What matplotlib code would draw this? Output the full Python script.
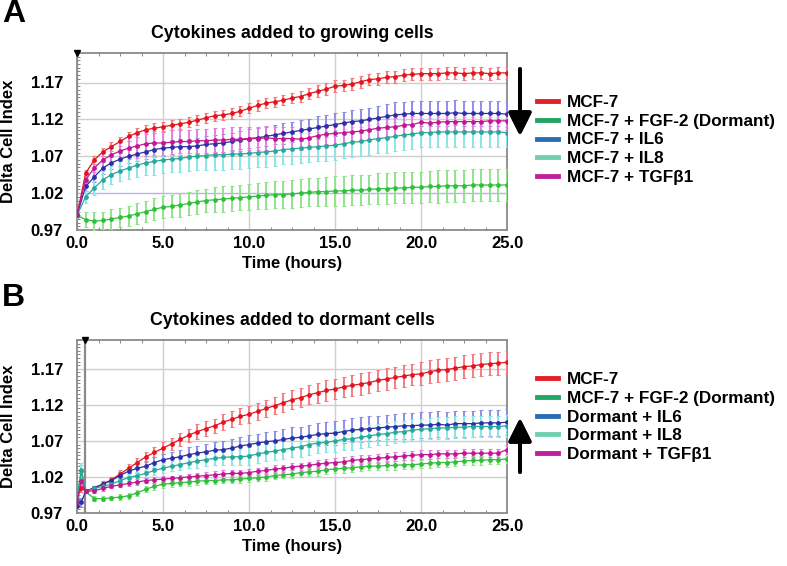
import matplotlib
matplotlib.use("Agg")
import matplotlib.pyplot as plt
from matplotlib.lines import Line2D
from matplotlib.ticker import MultipleLocator
import numpy as np

plt.rcParams['font.family'] = ['Liberation Sans', 'DejaVu Sans']
plt.rcParams['font.weight'] = 'bold'

# ---------------- Panel A data (cytokines added to growing cells) ----------------
time_a = [0, 0.5, 1, 1.5, 2, 2.5, 3, 3.5, 4, 4.5, 5, 5.5, 6, 6.5, 7, 7.5, 8, 8.5, 9, 9.5,
          10, 10.5, 11, 11.5, 12, 12.5, 13, 13.5, 14, 14.5, 15, 15.5, 16, 16.5, 17, 17.5,
          18, 18.5, 19, 19.5, 20, 20.5, 21, 21.5, 22, 22.5, 23, 23.5, 24, 24.5, 25]

a_mcf7 = [0.990, 1.047, 1.065, 1.076, 1.083, 1.090, 1.097, 1.102, 1.106, 1.108, 1.110, 1.112,
          1.114, 1.116, 1.119, 1.122, 1.125, 1.126, 1.128, 1.131, 1.135, 1.139, 1.142, 1.144,
          1.146, 1.149, 1.151, 1.155, 1.158, 1.161, 1.165, 1.166, 1.168, 1.171, 1.174, 1.175,
          1.177, 1.178, 1.180, 1.181, 1.182, 1.182, 1.182, 1.183, 1.183, 1.182, 1.183, 1.183,
          1.182, 1.183, 1.183]
a_fgf2 = [0.990, 0.984, 0.982, 0.983, 0.985, 0.987, 0.989, 0.992, 0.995, 0.998, 1.001, 1.002,
          1.004, 1.006, 1.008, 1.010, 1.011, 1.012, 1.013, 1.014, 1.015, 1.016, 1.017, 1.018,
          1.018, 1.019, 1.020, 1.021, 1.022, 1.022, 1.023, 1.023, 1.024, 1.024, 1.025, 1.026,
          1.026, 1.027, 1.027, 1.028, 1.028, 1.029, 1.029, 1.030, 1.030, 1.030, 1.031, 1.031,
          1.031, 1.031, 1.031]
a_il6 = [0.990, 1.029, 1.042, 1.054, 1.061, 1.066, 1.070, 1.073, 1.076, 1.079, 1.081, 1.082,
         1.083, 1.083, 1.084, 1.086, 1.087, 1.088, 1.090, 1.092, 1.094, 1.095, 1.097, 1.099,
         1.101, 1.103, 1.105, 1.107, 1.109, 1.111, 1.113, 1.115, 1.117, 1.118, 1.120, 1.122,
         1.124, 1.126, 1.127, 1.128, 1.128, 1.128, 1.128, 1.128, 1.129, 1.128, 1.128, 1.128,
         1.128, 1.128, 1.127]
a_il8 = [0.990, 1.015, 1.027, 1.038, 1.045, 1.050, 1.054, 1.058, 1.061, 1.063, 1.065, 1.066,
         1.067, 1.069, 1.070, 1.071, 1.072, 1.072, 1.073, 1.073, 1.074, 1.075, 1.076, 1.077,
         1.079, 1.080, 1.081, 1.082, 1.083, 1.084, 1.085, 1.087, 1.089, 1.090, 1.092, 1.094,
         1.095, 1.097, 1.099, 1.100, 1.102, 1.102, 1.103, 1.103, 1.103, 1.103, 1.103, 1.103,
         1.103, 1.103, 1.102]
a_tgfb1 = [0.990, 1.038, 1.054, 1.065, 1.072, 1.077, 1.081, 1.084, 1.087, 1.088, 1.088, 1.089,
           1.090, 1.090, 1.091, 1.091, 1.092, 1.092, 1.093, 1.093, 1.094, 1.094, 1.095, 1.094,
           1.094, 1.094, 1.093, 1.095, 1.098, 1.100, 1.101, 1.102, 1.103, 1.104, 1.106, 1.108,
           1.109, 1.110, 1.112, 1.113, 1.116, 1.115, 1.116, 1.117, 1.117, 1.117, 1.117, 1.117,
           1.118, 1.118, 1.118]

a_mcf7_err = [0.003, 0.005, 0.005, 0.005, 0.006, 0.006, 0.006, 0.006, 0.006, 0.007, 0.007, 0.007,
              0.007, 0.007, 0.007, 0.007, 0.007, 0.007, 0.007, 0.007, 0.007, 0.007, 0.007, 0.007,
              0.007, 0.007, 0.007, 0.007, 0.008, 0.008, 0.008, 0.008, 0.008, 0.008, 0.008, 0.008,
              0.008, 0.008, 0.008, 0.008, 0.008, 0.008, 0.008, 0.008, 0.008, 0.008, 0.008, 0.008,
              0.008, 0.008, 0.008]
a_fgf2_err = [0.004, 0.010, 0.012, 0.012, 0.013, 0.013, 0.014, 0.014, 0.014, 0.015, 0.015, 0.015,
              0.016, 0.016, 0.016, 0.016, 0.017, 0.017, 0.017, 0.017, 0.018, 0.018, 0.018, 0.018,
              0.018, 0.019, 0.019, 0.019, 0.019, 0.020, 0.020, 0.020, 0.020, 0.020, 0.020, 0.021,
              0.021, 0.021, 0.021, 0.021, 0.021, 0.021, 0.022, 0.022, 0.022, 0.022, 0.022, 0.022,
              0.022, 0.022, 0.022]
a_il6_err = [0.003, 0.006, 0.007, 0.008, 0.008, 0.009, 0.009, 0.009, 0.010, 0.010, 0.010, 0.010,
             0.011, 0.011, 0.011, 0.011, 0.012, 0.012, 0.012, 0.012, 0.013, 0.013, 0.013, 0.013,
             0.014, 0.014, 0.014, 0.014, 0.015, 0.015, 0.015, 0.015, 0.016, 0.016, 0.016, 0.016,
             0.017, 0.017, 0.017, 0.017, 0.017, 0.017, 0.017, 0.017, 0.017, 0.017, 0.017, 0.017,
             0.017, 0.017, 0.017]
a_il8_err = [0.003, 0.008, 0.010, 0.012, 0.012, 0.014, 0.015, 0.016, 0.017, 0.018, 0.018, 0.018,
             0.019, 0.019, 0.019, 0.019, 0.020, 0.020, 0.020, 0.020, 0.020, 0.020, 0.020, 0.020,
             0.020, 0.020, 0.020, 0.020, 0.020, 0.020, 0.020, 0.020, 0.020, 0.020, 0.020, 0.020,
             0.020, 0.020, 0.020, 0.020, 0.020, 0.020, 0.020, 0.020, 0.020, 0.020, 0.020, 0.020,
             0.020, 0.020, 0.020]
a_tgfb1_err = [0.003, 0.008, 0.010, 0.012, 0.013, 0.014, 0.015, 0.016, 0.016, 0.016, 0.016, 0.016,
               0.016, 0.016, 0.016, 0.016, 0.016, 0.016, 0.016, 0.016, 0.016, 0.016, 0.016, 0.016,
               0.015, 0.015, 0.015, 0.015, 0.014, 0.014, 0.014, 0.014, 0.013, 0.013, 0.013, 0.013,
               0.012, 0.012, 0.012, 0.012, 0.012, 0.012, 0.012, 0.012, 0.012, 0.012, 0.012, 0.012,
               0.012, 0.012, 0.012]

# ---------------- Panel B data (cytokines added to dormant cells) ----------------
time_b = [0, 0.25, 0.5, 1, 1.5, 2, 2.5, 3, 3.5, 4, 4.5, 5, 5.5, 6, 6.5, 7, 7.5, 8, 8.5, 9, 9.5,
          10, 10.5, 11, 11.5, 12, 12.5, 13, 13.5, 14, 14.5, 15, 15.5, 16, 16.5, 17, 17.5,
          18, 18.5, 19, 19.5, 20, 20.5, 21, 21.5, 22, 22.5, 23, 23.5, 24, 24.5, 25]

b_mcf7 = [0.990, 1.005, 1.000, 1.005, 1.010, 1.016, 1.024, 1.032, 1.040, 1.048, 1.054, 1.060,
          1.066, 1.072, 1.078, 1.083, 1.087, 1.091, 1.096, 1.100, 1.104, 1.107, 1.111, 1.115,
          1.119, 1.123, 1.127, 1.130, 1.134, 1.137, 1.140, 1.142, 1.145, 1.147, 1.149, 1.151,
          1.154, 1.156, 1.158, 1.160, 1.162, 1.163, 1.166, 1.168, 1.169, 1.171, 1.173, 1.174,
          1.176, 1.177, 1.178, 1.179]
b_fgf2 = [0.990, 1.028, 1.000, 0.990, 0.990, 0.991, 0.992, 0.994, 0.998, 1.003, 1.007, 1.010,
          1.011, 1.012, 1.013, 1.014, 1.015, 1.015, 1.016, 1.016, 1.017, 1.018, 1.019, 1.020,
          1.022, 1.023, 1.024, 1.026, 1.027, 1.028, 1.030, 1.031, 1.032, 1.033, 1.034, 1.035,
          1.035, 1.036, 1.036, 1.037, 1.037, 1.038, 1.039, 1.040, 1.040, 1.041, 1.042, 1.043,
          1.043, 1.044, 1.044, 1.045]
b_il6 = [0.980, 0.985, 1.000, 1.005, 1.010, 1.015, 1.022, 1.028, 1.032, 1.035, 1.040, 1.044,
         1.046, 1.048, 1.051, 1.053, 1.055, 1.057, 1.058, 1.060, 1.063, 1.065, 1.067, 1.069,
         1.070, 1.072, 1.074, 1.075, 1.077, 1.079, 1.080, 1.081, 1.083, 1.085, 1.086, 1.087,
         1.088, 1.089, 1.090, 1.091, 1.091, 1.092, 1.092, 1.093, 1.092, 1.094, 1.094, 1.094,
         1.095, 1.095, 1.095, 1.096]
b_il8 = [0.990, 1.030, 1.000, 1.004, 1.007, 1.010, 1.015, 1.019, 1.022, 1.025, 1.029, 1.032,
         1.035, 1.037, 1.040, 1.042, 1.044, 1.046, 1.047, 1.048, 1.048, 1.049, 1.052, 1.054,
         1.056, 1.058, 1.060, 1.062, 1.065, 1.067, 1.068, 1.070, 1.072, 1.073, 1.075, 1.077,
         1.079, 1.080, 1.082, 1.083, 1.085, 1.086, 1.087, 1.088, 1.088, 1.089, 1.089, 1.090,
         1.090, 1.090, 1.090, 1.091]
b_tgfb1 = [0.985, 1.015, 1.000, 1.001, 1.004, 1.007, 1.009, 1.011, 1.013, 1.015, 1.016, 1.017,
           1.018, 1.019, 1.020, 1.021, 1.022, 1.023, 1.024, 1.025, 1.025, 1.026, 1.028, 1.029,
           1.031, 1.032, 1.034, 1.035, 1.036, 1.038, 1.039, 1.040, 1.041, 1.043, 1.044, 1.045,
           1.046, 1.047, 1.048, 1.049, 1.050, 1.051, 1.051, 1.052, 1.052, 1.052, 1.053, 1.053,
           1.053, 1.053, 1.053, 1.058]

b_mcf7_err = [0.004, 0.006, 0.002, 0.003, 0.004, 0.004, 0.005, 0.006, 0.006, 0.007, 0.007, 0.008,
              0.008, 0.009, 0.009, 0.010, 0.010, 0.010, 0.011, 0.011, 0.011, 0.012, 0.012, 0.012,
              0.012, 0.013, 0.013, 0.013, 0.013, 0.014, 0.014, 0.014, 0.014, 0.014, 0.015, 0.015,
              0.015, 0.015, 0.015, 0.015, 0.015, 0.016, 0.016, 0.016, 0.016, 0.016, 0.016, 0.016,
              0.016, 0.016, 0.016, 0.016]
b_fgf2_err = [0.004, 0.008, 0.002, 0.003, 0.003, 0.003, 0.004, 0.004, 0.004, 0.004, 0.005, 0.005,
              0.005, 0.005, 0.005, 0.005, 0.005, 0.005, 0.005, 0.005, 0.005, 0.005, 0.005, 0.005,
              0.005, 0.005, 0.005, 0.006, 0.006, 0.006, 0.006, 0.006, 0.006, 0.006, 0.006, 0.006,
              0.006, 0.006, 0.006, 0.006, 0.006, 0.006, 0.006, 0.006, 0.006, 0.006, 0.006, 0.006,
              0.006, 0.006, 0.006, 0.006]
b_il6_err = [0.004, 0.006, 0.002, 0.003, 0.004, 0.004, 0.005, 0.006, 0.007, 0.007, 0.008, 0.008,
             0.009, 0.009, 0.010, 0.010, 0.011, 0.011, 0.012, 0.012, 0.012, 0.013, 0.013, 0.014,
             0.014, 0.014, 0.015, 0.015, 0.015, 0.016, 0.016, 0.016, 0.016, 0.017, 0.017, 0.017,
             0.017, 0.017, 0.018, 0.018, 0.018, 0.018, 0.018, 0.018, 0.018, 0.018, 0.018, 0.018,
             0.018, 0.018, 0.018, 0.018]
b_il8_err = [0.004, 0.010, 0.002, 0.003, 0.003, 0.004, 0.004, 0.005, 0.005, 0.006, 0.006, 0.007,
             0.007, 0.008, 0.008, 0.009, 0.009, 0.010, 0.010, 0.011, 0.011, 0.012, 0.012, 0.012,
             0.013, 0.013, 0.013, 0.014, 0.014, 0.014, 0.014, 0.015, 0.015, 0.015, 0.015, 0.015,
             0.015, 0.015, 0.015, 0.015, 0.015, 0.015, 0.015, 0.015, 0.015, 0.015, 0.015, 0.015,
             0.015, 0.015, 0.015, 0.015]
b_tgfb1_err = [0.004, 0.008, 0.002, 0.003, 0.003, 0.003, 0.003, 0.004, 0.004, 0.004, 0.004, 0.004,
               0.004, 0.004, 0.004, 0.004, 0.005, 0.005, 0.005, 0.005, 0.005, 0.005, 0.005, 0.005,
               0.005, 0.005, 0.005, 0.005, 0.005, 0.006, 0.006, 0.006, 0.006, 0.006, 0.006, 0.006,
               0.006, 0.006, 0.006, 0.006, 0.006, 0.006, 0.006, 0.006, 0.006, 0.006, 0.006, 0.006,
               0.006, 0.006, 0.006, 0.006]

labels_a = ['MCF-7', 'MCF-7 + FGF-2 (Dormant)', 'MCF-7 + IL6', 'MCF-7 + IL8', 'MCF-7 + TGFβ1']
labels_b = ['MCF-7', 'MCF-7 + FGF-2 (Dormant)', 'Dormant + IL6', 'Dormant + IL8', 'Dormant + TGFβ1']
titles = ['Cytokines added to growing cells', 'Cytokines added to dormant cells']
y_ticks = [0.97, 1.02, 1.07, 1.12, 1.17]
x_ticks = [0.0, 5.0, 10.0, 15.0, 20.0, 25.0]

# styles: line/marker colour, error-bar colour, legend colour
line_cols = ['#e3141e', '#2fbf3a', '#2b2fa8', '#27a99a', '#c0178f']
err_cols = ['#f27f84', '#93e38d', '#8e8ee8', '#8ae6e6', '#e57ee3']
leg_cols = ['#e0202a', '#23a564', '#2a6db5', '#6fcfb0', '#c0209a']

W, H = 787, 566
fig = plt.figure(figsize=(W / 100, H / 100), dpi=100)

def px_axes(left, top, right, bottom):
    return fig.add_axes([left / W, 1 - bottom / H, (right - left) / W, (bottom - top) / H])

ax_a = px_axes(77, 53, 507, 230)
ax_b = px_axes(77, 340, 507, 513)

def draw(ax, t, means, errs, title, lav_grid, vline_x):
    for m, e, lc, ec in zip(means, errs, line_cols, err_cols):
        ax.errorbar(t, m, yerr=e, fmt='-', color=lc, ecolor=ec, elinewidth=1.4,
                    capsize=1.2, capthick=0.8, lw=0.9, marker='o', markersize=2.4, zorder=3)
    ax.set_xlim(0, 25)
    ax.set_ylim(0.97, 1.21)
    ax.set_yticks(y_ticks)
    ax.set_yticklabels([f'{v:.2f}' for v in y_ticks])
    ax.set_xticks(x_ticks)
    ax.set_xticklabels([f'{v:.1f}' for v in x_ticks])
    ax.tick_params(axis='both', which='major', length=0, labelsize=12, pad=4)
    ax.tick_params(axis='y', which='major', pad=10)
    ax.xaxis.set_minor_locator(MultipleLocator(1.25))
    ax.yaxis.set_minor_locator(MultipleLocator(0.005))
    ax.tick_params(which='minor', direction='in', length=2.5, width=0.6, color='#707070',
                   top=True, bottom=True, left=True, right=False)
    for v in x_ticks[1:-1]:
        ax.axvline(v, color='#cfcfcf', lw=1.0, zorder=1)
    for v in y_ticks[1:]:
        col = '#b4b4ee' if (lav_grid and v == 1.02) else '#cfcfcf'
        ax.axhline(v, color=col, lw=1.0, zorder=1)
    ax.axvline(vline_x, color='#8a8a8a', lw=1.6, zorder=2)
    ax.plot([vline_x], [1.21], marker='v', color='black', markersize=4, clip_on=False, zorder=5)
    for s in ax.spines.values():
        s.set_color('#8a8a8a')
        s.set_linewidth(1.3)
    ax.set_xlabel('Time (hours)', fontsize=12, fontweight='bold', labelpad=4)
    ax.set_ylabel('Delta Cell Index', fontsize=12, fontweight='bold')
    ax.yaxis.set_label_coords(-0.142, 0.5)
    ax.set_title(title, fontsize=12.8, fontweight='bold', pad=11)

draw(ax_a, time_a, [a_mcf7, a_fgf2, a_il6, a_il8, a_tgfb1],
     [a_mcf7_err, a_fgf2_err, a_il6_err, a_il8_err, a_tgfb1_err], titles[0], True, 0.0)
draw(ax_b, time_b, [b_mcf7, b_fgf2, b_il6, b_il8, b_tgfb1],
     [b_mcf7_err, b_fgf2_err, b_il6_err, b_il8_err, b_tgfb1_err], titles[1], False, 0.47)

def add_legend(labels, center_y):
    handles = [Line2D([], [], color=c, lw=3.5) for c in leg_cols]
    fig.legend(handles, labels, loc='center left', bbox_to_anchor=(537 / W, 1 - center_y / H),
               frameon=False, handlelength=1.25, handletextpad=0.5,
               labelspacing=0.22, borderpad=0, borderaxespad=0,
               prop={'weight': 'bold', 'size': 12.3})

add_legend(labels_a, 140)
add_legend(labels_b, 417)

arrow_kw = dict(arrowstyle='-|>,head_length=1.0,head_width=0.5', lw=2.8, color='black',
                mutation_scale=14, shrinkA=0, shrinkB=0)
fig.add_artist(plt.annotate('', xy=(520 / W, 1 - 136 / H), xytext=(520 / W, 1 - 69 / H),
                            xycoords='figure fraction', arrowprops=arrow_kw))
fig.add_artist(plt.annotate('', xy=(520 / W, 1 - 418 / H), xytext=(520 / W, 1 - 472 / H),
                            xycoords='figure fraction', arrowprops=arrow_kw))

fig.text(2 / W, 1 - 14 / H, 'A', fontsize=23, fontweight='bold', va='center', ha='left')
fig.text(2 / W, 1 - 298 / H, 'B', fontsize=23, fontweight='bold', va='center', ha='left')

fig.savefig('out.png', dpi=100)
